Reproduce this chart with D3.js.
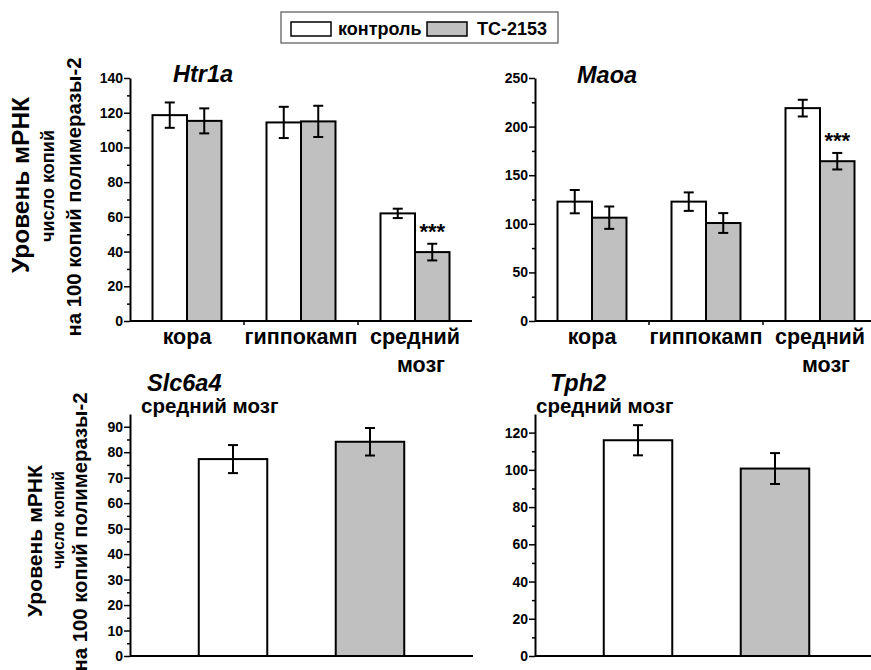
<!DOCTYPE html>
<html>
<head>
<meta charset="utf-8">
<script src="https://cdn.jsdelivr.net/npm/d3@7"></script>
<style>
  body { margin: 0; background: #fff; }
  svg { display: block; font-family: "Liberation Sans", Arial, sans-serif; font-weight: bold; }
</style>
</head>
<body>
<script>
const width = 871;
const height = 670;

// data
const regions = ["кора", "гиппокамп", "средний мозг"];
const groups = ["контроль", "ТС-2153"];
const midbrain = ["средний мозг"];

const htr1aControl = [118.6, 114.4, 62.0];
const htr1aControlErr = [7.3, 9.0, 2.7];
const htr1aTC = [115.3, 115.0, 39.7];
const htr1aTCErr = [7.2, 9.0, 4.8];

const maoaControl = [122.8, 122.8, 219.0];
const maoaControlErr = [12.0, 9.5, 8.6];
const maoaTC = [106.3, 100.8, 164.4];
const maoaTCErr = [11.5, 10.2, 8.5];

const slc6a4Control = [77.3];
const slc6a4ControlErr = [5.5];
const slc6a4TC = [84.1];
const slc6a4TCErr = [5.4];

const tph2Control = [115.9];
const tph2ControlErr = [8.1];
const tph2TC = [100.7];
const tph2TCErr = [8.3];

const htr1aTicks = [0, 20, 40, 60, 80, 100, 120, 140];
const maoaTicks = [0, 50, 100, 150, 200, 250];
const slc6a4Ticks = [0, 10, 20, 30, 40, 50, 60, 70, 80, 90];
const tph2Ticks = [0, 20, 40, 60, 80, 100, 120];

const fills = ["#ffffff", "#c0c0c0"];
const yLabel = ["Уровень мРНК", "число копий", "на 100 копий полимеразы-2"];

const svg = d3.select("body").append("svg")
  .attr("width", width)
  .attr("height", height);

// legend
const legend = svg.append("g");
legend.append("rect")
  .attr("x", 281).attr("y", 12).attr("width", 277).attr("height", 31)
  .attr("fill", "none").attr("stroke", "#555").attr("stroke-width", 1.2);
const legendX = [[291, 338], [427, 477]];
groups.forEach((g, i) => {
  legend.append("rect")
    .attr("x", legendX[i][0]).attr("y", 22).attr("width", 40).attr("height", 14)
    .attr("fill", fills[i]).attr("stroke", "#000").attr("stroke-width", 1.5);
  legend.append("text")
    .attr("x", legendX[i][1]).attr("y", 35)
    .style("font-size", "18px")
    .text(g);
});

function drawPanel(o) {
  const g = svg.append("g");
  const y = d3.scaleLinear().domain([0, o.ymax]).range([o.y0, o.y1]);
  const bw = o.barW;
  let center;
  let x;
  if (o.cats.length > 1) {
    // grouped bars: pair centred in each band
    x = d3.scaleBand().domain(o.cats).range([o.x0, o.x1]);
    center = (si, i) => x(o.cats[i]) + x.bandwidth() / 2 + (si - 0.5) * bw;
  } else {
    // single region: one point per group
    const xp = d3.scalePoint().domain(groups).range([o.x0, o.x1]).padding(0.752);
    center = (si) => xp(groups[si]);
  }
  const series = [
    { vals: o.control, errs: o.controlErr, fill: fills[0] },
    { vals: o.tc, errs: o.tcErr, fill: fills[1] }
  ];

  // y axis
  const step = o.ticks[1] - o.ticks[0];
  const minor = d3.range(step / 2, o.ymax, step);
  g.append("g")
    .attr("transform", `translate(${o.x0},0)`)
    .call(d3.axisLeft(y).tickValues(minor).tickSize(3).tickFormat(""))
    .call(a => a.select(".domain").remove())
    .call(a => a.selectAll("line").attr("stroke-width", 1.5));
  g.append("g")
    .attr("transform", `translate(${o.x0},0)`)
    .call(d3.axisLeft(y).tickValues(o.ticks).tickSize(6).tickSizeOuter(0).tickPadding(1))
    .call(a => a.select(".domain").attr("stroke-width", 2))
    .call(a => a.selectAll("line").attr("stroke-width", 1.5))
    .call(a => a.selectAll("text").style("font-size", "14px").style("font-family", "inherit").attr("fill", "#000"));

  // bars
  series.forEach((s, si) => {
    g.selectAll(null).data(s.vals).enter().append("rect")
      .attr("x", (d, i) => center(si, i) - bw / 2)
      .attr("y", (d) => y(d))
      .attr("width", bw)
      .attr("height", (d) => y(0) - y(d))
      .attr("fill", s.fill)
      .attr("stroke", "#000")
      .attr("stroke-width", 2);
    const err = g.selectAll(null).data(s.vals).enter().append("g")
      .attr("stroke", "#000").attr("stroke-width", 2);
    err.append("line")
      .attr("x1", (d, i) => center(si, i)).attr("x2", (d, i) => center(si, i))
      .attr("y1", (d, i) => y(d + s.errs[i])).attr("y2", (d, i) => y(d - s.errs[i]));
    err.append("line")
      .attr("x1", (d, i) => center(si, i) - 5).attr("x2", (d, i) => center(si, i) + 5)
      .attr("y1", (d, i) => y(d + s.errs[i])).attr("y2", (d, i) => y(d + s.errs[i]));
    err.append("line")
      .attr("x1", (d, i) => center(si, i) - 5).attr("x2", (d, i) => center(si, i) + 5)
      .attr("y1", (d, i) => y(d - s.errs[i])).attr("y2", (d, i) => y(d - s.errs[i]));
  });

  // x axis
  g.append("line")
    .attr("x1", o.x0).attr("x2", o.x1).attr("y1", y(0)).attr("y2", y(0))
    .attr("stroke", "#000").attr("stroke-width", 2);
  if (o.cats.length > 1) {
    o.cats.slice(1).forEach((c) => {
      g.append("line")
        .attr("x1", x(c)).attr("x2", x(c)).attr("y1", y(0)).attr("y2", y(0) + 4)
        .attr("stroke", "#000").attr("stroke-width", 1.5);
    });
    o.cats.forEach((c) => {
      const words = c.split(" ");
      g.append("text")
        .attr("text-anchor", "middle")
        .attr("y", y(0) + 23)
        .style("font-size", "21.5px")
        .selectAll("tspan").data(words).enter().append("tspan")
        .attr("x", (d, i) => x(c) + x.bandwidth() / 2 + i * 6)
        .attr("dy", (d, i) => i ? 28 : 0)
        .text((d) => d);
    });
  }

  // significance
  o.stars.forEach((i) => {
    g.append("text")
      .attr("text-anchor", "middle")
      .attr("x", center(1, i))
      .attr("y", y(o.tc[i] + o.tcErr[i]) - 5)
      .style("font-size", "22px")
      .text("***");
  });

  // titles
  g.append("text")
    .attr("x", o.titleX).attr("y", o.titleY)
    .style("font-size", "23.5px").style("font-style", "italic")
    .text(o.title);
  if (o.sub) {
    g.append("text")
      .attr("x", o.subX).attr("y", o.titleY + 22)
      .style("font-size", "20.5px")
      .text(o.sub);
  }
}

drawPanel({ cats: regions, control: htr1aControl, controlErr: htr1aControlErr, tc: htr1aTC, tcErr: htr1aTCErr,
  ymax: 140, ticks: htr1aTicks, x0: 130, x1: 472, y0: 321, y1: 78, barW: 34.5,
  stars: [2], title: "Htr1a", titleX: 173, titleY: 82 });
drawPanel({ cats: regions, control: maoaControl, controlErr: maoaControlErr, tc: maoaTC, tcErr: maoaTCErr,
  ymax: 250, ticks: maoaTicks, x0: 535, x1: 877, y0: 321, y1: 78, barW: 34.5,
  stars: [2], title: "Maoa", titleX: 577, titleY: 83 });
drawPanel({ cats: midbrain, control: slc6a4Control, controlErr: slc6a4ControlErr, tc: slc6a4TC, tcErr: slc6a4TCErr,
  ymax: 95, ticks: slc6a4Ticks, x0: 130, x1: 473, y0: 656, y1: 414, barW: 68.5,
  stars: [], title: "Slc6a4", titleX: 147, titleY: 390.5, sub: "средний мозг", subX: 141 });
drawPanel({ cats: midbrain, control: tph2Control, controlErr: tph2ControlErr, tc: tph2TC, tcErr: tph2TCErr,
  ymax: 130, ticks: tph2Ticks, x0: 535, x1: 878, y0: 656, y1: 414, barW: 68.5,
  stars: [], title: "Tph2", titleX: 550, titleY: 390.5, sub: "средний мозг", subX: 536 });

// y axis titles, each line sized to the length it has in the figure
function yTitle(xs, ys, lens) {
  yLabel.forEach((t, i) => {
    const txt = svg.append("text")
      .attr("text-anchor", "middle")
      .attr("transform", `translate(${xs[i]},${ys[i]}) rotate(-90)`)
      .style("font-size", "20px")
      .text(t);
    const w = txt.node().getComputedTextLength();
    txt.style("font-size", (20 * lens[i] / w) + "px");
  });
}
yTitle([29, 54, 81], [185, 186, 197], [176, 112, 279]);
yTitle([42, 64, 87], [541, 520, 532], [152, 98, 279]);
</script>
</body>
</html>
